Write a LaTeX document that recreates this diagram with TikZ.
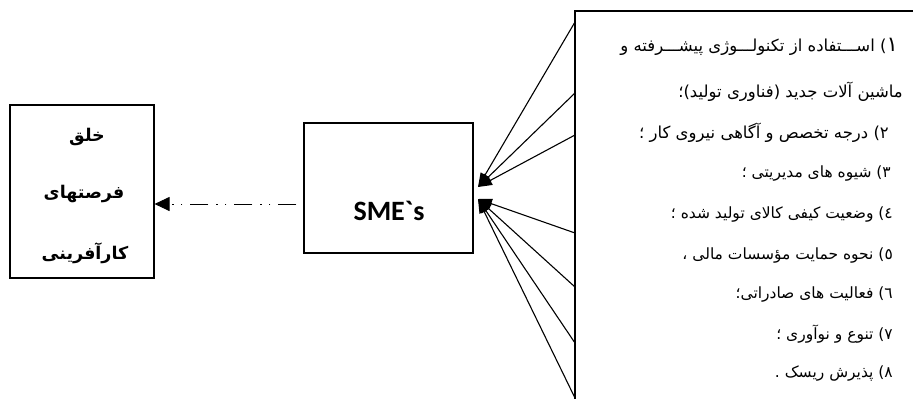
\documentclass[tikz,border=0pt]{standalone}
\usepackage{fontspec}
\setmainfont{DejaVu Sans}
\newfontfamily\farsi[Script=Arabic]{DejaVu Sans}
\newfontfamily\smefont{Carlito}
\TeXXeTstate=1
\usetikzlibrary{arrows.meta}

\begin{document}
\begin{tikzpicture}[x = 1pt, y = -1pt,
        box/.style = {draw, line width = 1.1pt, inner sep = 0pt, minimum width = #1},
        title/.style = {font = \farsi\bfseries\fontsize{17.5}{20}\selectfont},
        item/.style = {anchor = east, inner sep = 0pt, font = \farsi\fontsize{#1}{17}\selectfont},
        item/.default = 15.5,
        feed/.style = {line width = 1.1pt, -{Triangle[length = 14pt, width = 10pt]}},
        dashdotdot/.style = {line width = 1pt, dash pattern = on 18pt off 8pt on 1.5pt off 7pt on 1.5pt off 8pt}]
    \useasboundingbox (0, 0) rectangle (913, 399);

    % boxes
    \node[box = 144pt, minimum height = 173pt] (opp) at (82, 191.5) {};
    \node[box = 169pt, minimum height = 130pt] (sme) at (388.5, 188) {};
    \node[font = \smefont\bfseries\fontsize{28}{30}\selectfont] (smetext) at (389, 211) {SME`s};
    \node[title] (opptext1) at (87, 137) {\beginR خلق\endR};
    \node[title] (opptext2) at (84, 194) {\beginR فرصتهای\endR};
    \node[title] (opptext3) at (85, 253) {\beginR کارآفرینی\endR};

    % factor list
    \coordinate (corner) at (575, 11);
    \draw[line width = 1.3pt] (913, 11) -- (corner) -- (575, 399);
    \node[item = 16.5] (f1) at (898, 47) {\beginR{\fontsize{21}{21}\selectfont ۱}) اســـتفاده از تکنولـــوژی پیشـــرفته و\endR};
    \node[item = 16.5] (f1b) at (903, 92) {\beginR ماشین آلات جدید (فناوری تولید)؛\endR};
    \node[item = 16.5] (f2) at (889, 133) {\beginR ۲) درجه تخصص و آگاهی نیروی کار ؛\endR};
    \node[item] (f3) at (891, 174) {\beginR ۳) شیوه های مدیریتی ؛\endR};
    \node[item] (f4) at (893, 215) {\beginR ٤) وضعیت کیفی کالای تولید شده ؛\endR};
    \node[item] (f5) at (893, 255) {\beginR ٥)  نحوه حمایت مؤسسات مالی  ،\endR};
    \node[item] (f6) at (893, 294) {\beginR ٦) فعالیت های صادراتی؛\endR};
    \node[item] (f7) at (893, 334) {\beginR ٧) تنوع و نوآوری ؛\endR};
    \node[item] (f8) at (893, 373) {\beginR ٨) پذیرش ریسک .\endR};

    % arrows into SME
    \coordinate (inU) at (478, 187);
    \coordinate (inD) at (478, 199);
    \foreach \y [count = \i] in {22, 93, 135}
        \coordinate (u\i) at (575, \y);
    \foreach \y [count = \i] in {233, 287, 343, 398}
        \coordinate (d\i) at (575, \y);
    \foreach \i in {1, 2, 3}
        \draw[feed] (u\i) -- (inU);
    \foreach \i in {1, ..., 4}
        \draw[feed] (d\i) -- (inD);

    % SME to opportunities
    \draw[dashdotdot, -{Triangle[length = 15pt, width = 14pt]}, shorten <= 7pt]
        (sme.west |- 0, 204) -- (opp.east |- 0, 204);
\end{tikzpicture}
\end{document}
